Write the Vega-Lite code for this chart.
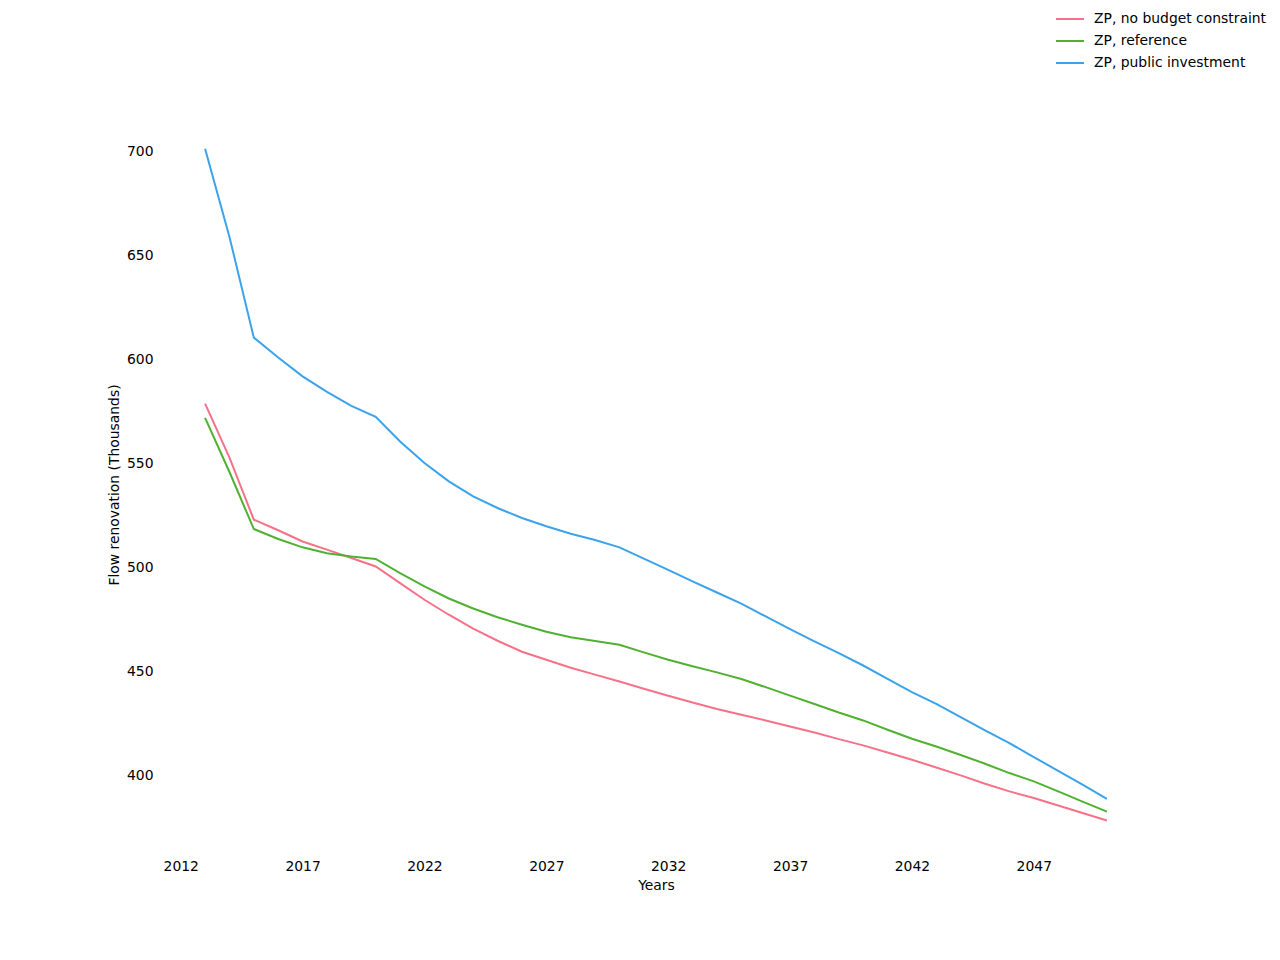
{
  "$schema": "https://vega.github.io/schema/vega-lite/v6.json",
  "width": 992,
  "height": 739,
  "autosize": {"type": "none"},
  "padding": {"left": 160, "top": 115, "right": 128, "bottom": 106},
  "background": "white",
  "config": {
    "view": {"stroke": null},
    "font": "DejaVu Sans",
    "axis": {"labelFont": "DejaVu Sans", "titleFont": "DejaVu Sans", "labelFontSize": 13.9, "titleFontSize": 13.9, "titleFontWeight": "normal", "labelColor": "#000", "titleColor": "#000", "domain": false, "ticks": false, "grid": false},
    "legend": {"labelFont": "DejaVu Sans", "labelFontSize": 13.9, "labelColor": "#000", "labelLimit": 0}
  },
  "data": {
    "values": [
      {"year": 2013, "s": "ZP, no budget constraint", "v": 578.9},
      {"year": 2014, "s": "ZP, no budget constraint", "v": 552.9},
      {"year": 2015, "s": "ZP, no budget constraint", "v": 523.1},
      {"year": 2016, "s": "ZP, no budget constraint", "v": 518.0},
      {"year": 2017, "s": "ZP, no budget constraint", "v": 512.6},
      {"year": 2018, "s": "ZP, no budget constraint", "v": 508.7},
      {"year": 2019, "s": "ZP, no budget constraint", "v": 504.7},
      {"year": 2020, "s": "ZP, no budget constraint", "v": 500.6},
      {"year": 2021, "s": "ZP, no budget constraint", "v": 492.6},
      {"year": 2022, "s": "ZP, no budget constraint", "v": 484.6},
      {"year": 2023, "s": "ZP, no budget constraint", "v": 477.4},
      {"year": 2024, "s": "ZP, no budget constraint", "v": 470.7},
      {"year": 2025, "s": "ZP, no budget constraint", "v": 464.9},
      {"year": 2026, "s": "ZP, no budget constraint", "v": 459.6},
      {"year": 2027, "s": "ZP, no budget constraint", "v": 455.8},
      {"year": 2028, "s": "ZP, no budget constraint", "v": 451.9},
      {"year": 2029, "s": "ZP, no budget constraint", "v": 448.6},
      {"year": 2030, "s": "ZP, no budget constraint", "v": 445.3},
      {"year": 2031, "s": "ZP, no budget constraint", "v": 441.8},
      {"year": 2032, "s": "ZP, no budget constraint", "v": 438.5},
      {"year": 2033, "s": "ZP, no budget constraint", "v": 435.2},
      {"year": 2034, "s": "ZP, no budget constraint", "v": 432.1},
      {"year": 2035, "s": "ZP, no budget constraint", "v": 429.3},
      {"year": 2036, "s": "ZP, no budget constraint", "v": 426.6},
      {"year": 2037, "s": "ZP, no budget constraint", "v": 423.7},
      {"year": 2038, "s": "ZP, no budget constraint", "v": 420.8},
      {"year": 2039, "s": "ZP, no budget constraint", "v": 417.6},
      {"year": 2040, "s": "ZP, no budget constraint", "v": 414.6},
      {"year": 2041, "s": "ZP, no budget constraint", "v": 411.2},
      {"year": 2042, "s": "ZP, no budget constraint", "v": 407.7},
      {"year": 2043, "s": "ZP, no budget constraint", "v": 404.0},
      {"year": 2044, "s": "ZP, no budget constraint", "v": 400.2},
      {"year": 2045, "s": "ZP, no budget constraint", "v": 396.2},
      {"year": 2046, "s": "ZP, no budget constraint", "v": 392.5},
      {"year": 2047, "s": "ZP, no budget constraint", "v": 389.3},
      {"year": 2048, "s": "ZP, no budget constraint", "v": 385.7},
      {"year": 2049, "s": "ZP, no budget constraint", "v": 382.1},
      {"year": 2050, "s": "ZP, no budget constraint", "v": 378.5},
      {"year": 2013, "s": "ZP, reference", "v": 572.0},
      {"year": 2014, "s": "ZP, reference", "v": 546.0},
      {"year": 2015, "s": "ZP, reference", "v": 518.6},
      {"year": 2016, "s": "ZP, reference", "v": 513.8},
      {"year": 2017, "s": "ZP, reference", "v": 509.8},
      {"year": 2018, "s": "ZP, reference", "v": 507.0},
      {"year": 2019, "s": "ZP, reference", "v": 505.4},
      {"year": 2020, "s": "ZP, reference", "v": 504.2},
      {"year": 2021, "s": "ZP, reference", "v": 497.4},
      {"year": 2022, "s": "ZP, reference", "v": 491.0},
      {"year": 2023, "s": "ZP, reference", "v": 485.2},
      {"year": 2024, "s": "ZP, reference", "v": 480.4},
      {"year": 2025, "s": "ZP, reference", "v": 476.2},
      {"year": 2026, "s": "ZP, reference", "v": 472.6},
      {"year": 2027, "s": "ZP, reference", "v": 469.2},
      {"year": 2028, "s": "ZP, reference", "v": 466.6},
      {"year": 2029, "s": "ZP, reference", "v": 464.8},
      {"year": 2030, "s": "ZP, reference", "v": 463.0},
      {"year": 2031, "s": "ZP, reference", "v": 459.3},
      {"year": 2032, "s": "ZP, reference", "v": 455.8},
      {"year": 2033, "s": "ZP, reference", "v": 452.6},
      {"year": 2034, "s": "ZP, reference", "v": 449.7},
      {"year": 2035, "s": "ZP, reference", "v": 446.5},
      {"year": 2036, "s": "ZP, reference", "v": 442.6},
      {"year": 2037, "s": "ZP, reference", "v": 438.5},
      {"year": 2038, "s": "ZP, reference", "v": 434.5},
      {"year": 2039, "s": "ZP, reference", "v": 430.4},
      {"year": 2040, "s": "ZP, reference", "v": 426.6},
      {"year": 2041, "s": "ZP, reference", "v": 422.1},
      {"year": 2042, "s": "ZP, reference", "v": 417.8},
      {"year": 2043, "s": "ZP, reference", "v": 414.1},
      {"year": 2044, "s": "ZP, reference", "v": 410.0},
      {"year": 2045, "s": "ZP, reference", "v": 405.8},
      {"year": 2046, "s": "ZP, reference", "v": 401.3},
      {"year": 2047, "s": "ZP, reference", "v": 397.3},
      {"year": 2048, "s": "ZP, reference", "v": 392.5},
      {"year": 2049, "s": "ZP, reference", "v": 387.6},
      {"year": 2050, "s": "ZP, reference", "v": 382.8},
      {"year": 2013, "s": "ZP, public investment", "v": 701.4},
      {"year": 2014, "s": "ZP, public investment", "v": 659.0},
      {"year": 2015, "s": "ZP, public investment", "v": 610.6},
      {"year": 2016, "s": "ZP, public investment", "v": 601.0},
      {"year": 2017, "s": "ZP, public investment", "v": 592.0},
      {"year": 2018, "s": "ZP, public investment", "v": 584.5},
      {"year": 2019, "s": "ZP, public investment", "v": 577.8},
      {"year": 2020, "s": "ZP, public investment", "v": 572.5},
      {"year": 2021, "s": "ZP, public investment", "v": 560.7},
      {"year": 2022, "s": "ZP, public investment", "v": 550.3},
      {"year": 2023, "s": "ZP, public investment", "v": 541.5},
      {"year": 2024, "s": "ZP, public investment", "v": 534.3},
      {"year": 2025, "s": "ZP, public investment", "v": 528.7},
      {"year": 2026, "s": "ZP, public investment", "v": 523.9},
      {"year": 2027, "s": "ZP, public investment", "v": 519.9},
      {"year": 2028, "s": "ZP, public investment", "v": 516.3},
      {"year": 2029, "s": "ZP, public investment", "v": 513.3},
      {"year": 2030, "s": "ZP, public investment", "v": 509.8},
      {"year": 2031, "s": "ZP, public investment", "v": 504.4},
      {"year": 2032, "s": "ZP, public investment", "v": 499.0},
      {"year": 2033, "s": "ZP, public investment", "v": 493.4},
      {"year": 2034, "s": "ZP, public investment", "v": 488.1},
      {"year": 2035, "s": "ZP, public investment", "v": 482.7},
      {"year": 2036, "s": "ZP, public investment", "v": 476.6},
      {"year": 2037, "s": "ZP, public investment", "v": 470.5},
      {"year": 2038, "s": "ZP, public investment", "v": 464.6},
      {"year": 2039, "s": "ZP, public investment", "v": 459.0},
      {"year": 2040, "s": "ZP, public investment", "v": 453.0},
      {"year": 2041, "s": "ZP, public investment", "v": 446.6},
      {"year": 2042, "s": "ZP, public investment", "v": 440.2},
      {"year": 2043, "s": "ZP, public investment", "v": 434.6},
      {"year": 2044, "s": "ZP, public investment", "v": 428.2},
      {"year": 2045, "s": "ZP, public investment", "v": 421.8},
      {"year": 2046, "s": "ZP, public investment", "v": 415.7},
      {"year": 2047, "s": "ZP, public investment", "v": 409.0},
      {"year": 2048, "s": "ZP, public investment", "v": 402.4},
      {"year": 2049, "s": "ZP, public investment", "v": 395.7},
      {"year": 2050, "s": "ZP, public investment", "v": 388.9}
    ]
  },
  "mark": {"type": "line", "strokeWidth": 2, "interpolate": "linear"},
  "encoding": {
    "x": {
      "field": "year", "type": "quantitative", "title": "Years",
      "scale": {"domain": [2011.15, 2051.85], "nice": false, "zero": false},
      "axis": {"values": [2012, 2017, 2022, 2027, 2032, 2037, 2042, 2047], "format": "d", "labelPadding": 5, "titlePadding": 6, "labelFlush": false}
    },
    "y": {
      "field": "v", "type": "quantitative", "title": "Flow renovation (Thousands)",
      "scale": {"domain": [362.4, 717.6], "nice": false, "zero": false},
      "axis": {"values": [400, 450, 500, 550, 600, 650, 700], "labelPadding": 7, "titlePadding": 5, "labelFlush": false}
    },
    "color": {
      "field": "s", "type": "nominal",
      "scale": {"domain": ["ZP, no budget constraint", "ZP, reference", "ZP, public investment"], "range": ["#f77189", "#50b131", "#3ba3ec"]},
      "legend": {"title": null, "orient": "none", "legendX": 895, "legendY": -111, "symbolType": "stroke", "symbolSize": 784, "symbolStrokeWidth": 2, "labelOffset": 9, "rowPadding": -6.5, "padding": 0}
    }
  }
}
